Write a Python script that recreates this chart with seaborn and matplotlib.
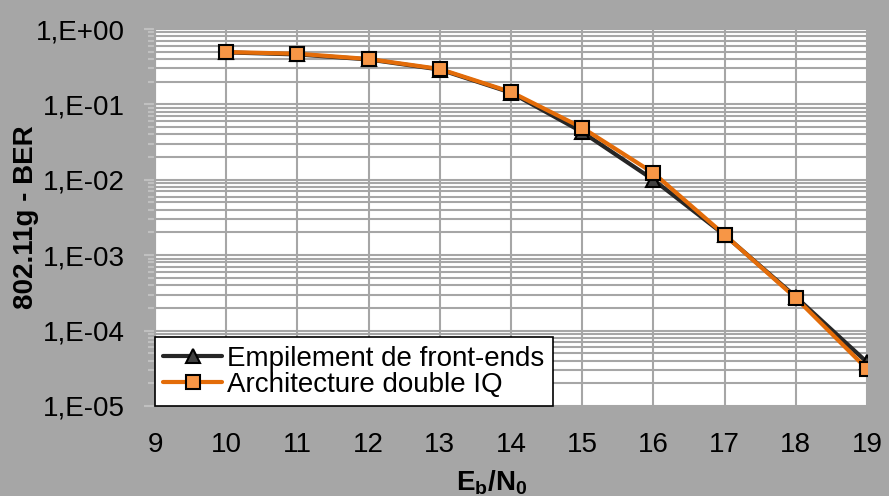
import numpy as np
import pandas as pd
import seaborn as sns
import matplotlib.pyplot as plt
from matplotlib.ticker import LogLocator, FuncFormatter, NullFormatter

ebn0 = [10, 11, 12, 13, 14, 15, 16, 17, 18, 19]
ber_stack = [0.49, 0.46, 0.395, 0.29, 0.143, 0.043, 0.0100, 0.00185, 2.8e-4, 3.8e-5]
ber_iq = [0.495, 0.47, 0.40, 0.295, 0.146, 0.049, 0.0123, 0.00186, 2.7e-4, 3.1e-5]
names = ['Empilement de front-ends', 'Architecture double IQ']

df = pd.DataFrame({
    'x': ebn0 * 2,
    'ber': ber_stack + ber_iq,
    'serie': [names[0]] * len(ebn0) + [names[1]] * len(ebn0),
})

sns.set_theme(style='white')
plt.rcParams['font.family'] = ['Liberation Sans', 'DejaVu Sans']
plt.rcParams['text.color'] = 'black'
plt.rcParams['axes.labelcolor'] = 'black'
plt.rcParams['xtick.color'] = 'black'
plt.rcParams['ytick.color'] = 'black'
plt.rcParams['mathtext.fontset'] = 'custom'
plt.rcParams['mathtext.rm'] = 'Liberation Sans'
plt.rcParams['mathtext.bf'] = 'Liberation Sans:bold'

bg = '#A6A6A6'
fs = 20
fig = plt.figure(figsize=(8.89, 4.96), dpi=100, facecolor=bg)
ax = fig.add_axes([0.1744, 0.1815, 0.8009, 0.76])
ax.set_facecolor('white')

sns.lineplot(data=df, x='x', y='ber', hue='serie', style='serie',
             palette={names[0]: '#262626', names[1]: '#E36C09'},
             markers={names[0]: '^', names[1]: 's'}, dashes=False,
             linewidth=3, markersize=10.5, markeredgecolor='black',
             markeredgewidth=1.5, ax=ax, legend=False)

# marker fills
for line, fc in zip(ax.get_lines(), ['#404040', '#F79646']):
    line.set_markerfacecolor(fc)

ax.set_yscale('log')
ax.set_ylim(1e-5, 1)
ax.set_xlim(9, 19)
ax.set_xticks(range(9, 20))
ax.yaxis.set_major_locator(LogLocator(base=10, numticks=10))
ax.yaxis.set_minor_locator(LogLocator(base=10, subs=np.arange(2, 10), numticks=20))
ax.yaxis.set_major_formatter(FuncFormatter(lambda v, p: '1,E%+03d' % int(round(np.log10(v)))))
ax.yaxis.set_minor_formatter(NullFormatter())

ax.grid(True, which='major', color='#A6A6A6', linewidth=1.5)
ax.grid(True, which='minor', axis='y', color='#A6A6A6', linewidth=1.5)
ax.set_axisbelow(True)
for s in ['top', 'right', 'bottom']:
    ax.spines[s].set_visible(False)
ax.spines['left'].set_color('#A6A6A6')
ax.spines['left'].set_linewidth(1.5)

ax.tick_params(axis='y', which='major', direction='out', length=8, width=1.5,
               color='#C0C0C0', labelsize=fs, pad=14, left=True)
ax.tick_params(axis='y', which='minor', direction='out', length=5, width=1.5,
               color='#C0C0C0', left=True)
ax.tick_params(axis='x', which='both', length=0, labelsize=fs, pad=19)

ax.set_xlabel(r'$\mathbf{E_b/N_0}$', fontsize=fs)
ax.xaxis.set_label_coords(0.473, -0.165)
ax.set_ylabel('802.11g - BER', fontsize=fs, fontweight='bold')
ax.yaxis.set_label_coords(-0.163, 0.5)

handles = ax.get_lines()[:2]
leg = ax.legend(handles, names, loc='lower left', bbox_to_anchor=(0, 0),
                borderaxespad=0, fancybox=False, framealpha=1, edgecolor='black',
                fontsize=fs, labelspacing=0.0, borderpad=0.3,
                handlelength=2.1, handletextpad=0.2)
leg.get_frame().set_linewidth(1.2)

fig.savefig('out.png', dpi=100, facecolor=bg)
